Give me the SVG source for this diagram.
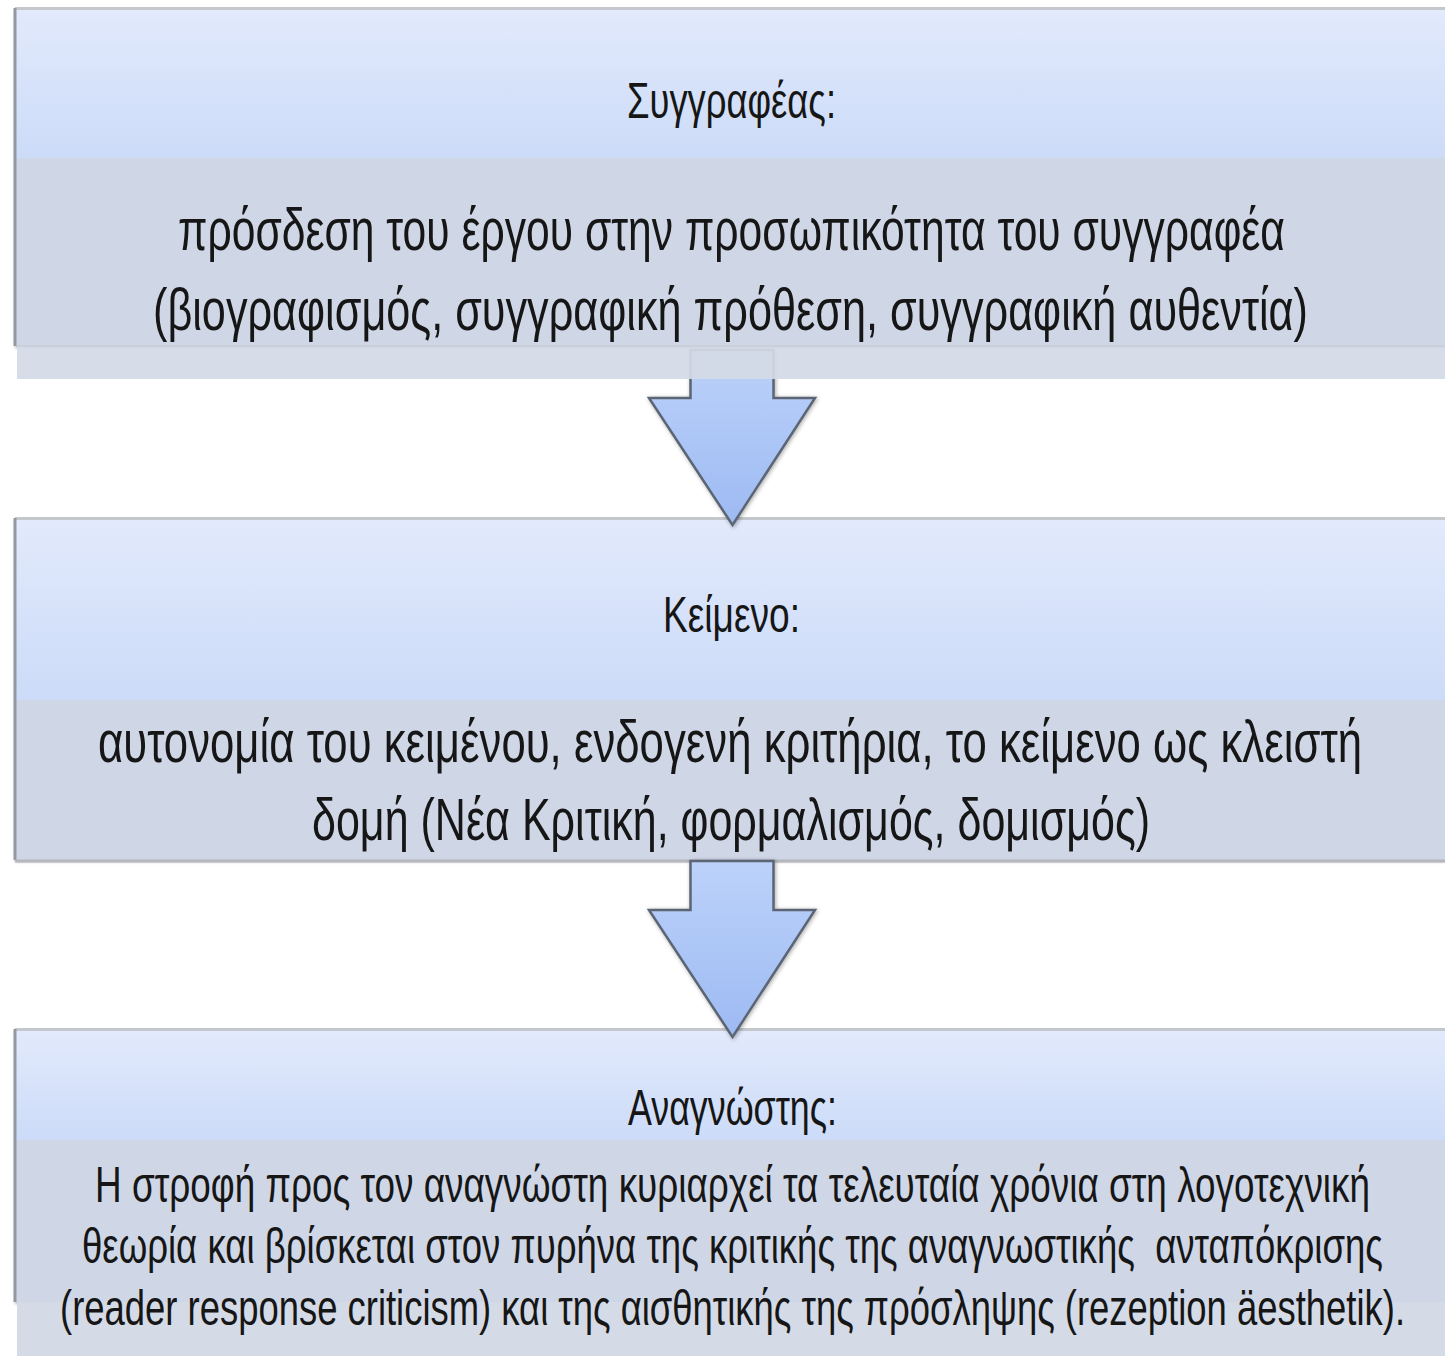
<svg xmlns="http://www.w3.org/2000/svg" width="1445" height="1356" viewBox="0 0 1445 1356">
<defs>
<linearGradient id="blueTop" x1="0" y1="0" x2="0" y2="1">
<stop offset="0" stop-color="#e2eafc"/>
<stop offset="1" stop-color="#ccdbf8"/>
</linearGradient>
<linearGradient id="arrowFill" x1="0" y1="0" x2="0" y2="1">
<stop offset="0" stop-color="#bcd2fa"/>
<stop offset="1" stop-color="#9dbaf2"/>
</linearGradient>
<filter id="shadow" x="-10%" y="-10%" width="120%" height="120%">
<feGaussianBlur in="SourceAlpha" stdDeviation="2"/>
<feOffset dx="1" dy="1" result="b"/>
<feComponentTransfer><feFuncA type="linear" slope="0.35"/></feComponentTransfer>
<feMerge><feMergeNode/><feMergeNode in="SourceGraphic"/></feMerge>
</filter>
<filter id="boxShadow" x="-2%" y="-5%" width="104%" height="110%">
<feGaussianBlur in="SourceAlpha" stdDeviation="1.5"/>
<feOffset dx="0" dy="2"/>
<feComponentTransfer><feFuncA type="linear" slope="0.3"/></feComponentTransfer>
<feMerge><feMergeNode/><feMergeNode in="SourceGraphic"/></feMerge>
</filter>
</defs>
<style>
.top{fill:url(#blueTop);}
.body{fill:#cfd7e7;}
.band{fill:#d4dae6;}
.edge{fill:none;stroke:#9498a0;stroke-width:3;}
.topline{fill:none;stroke:#c4c7cc;stroke-width:3;}
.arrow{fill:url(#arrowFill);stroke:#5b6574;stroke-width:2.5;stroke-linejoin:miter;}
text{font-family:"Liberation Sans","DejaVu Sans",sans-serif;fill:#161616;}
.title{font-size:34px;}
.big{font-size:40px;}
.small{font-size:32px;}
</style>
<rect x="0" y="0" width="1445" height="1356" fill="#ffffff"/>

<g id="node-author">
<g filter="url(#boxShadow)">
<rect class="top" x="15" y="9" width="1430" height="150"/>
<rect class="body" x="15" y="158" width="1430" height="188"/>
</g>
<line class="topline" x1="15" y1="8.5" x2="1445" y2="8.5"/>
<line class="edge" x1="15" y1="8" x2="15" y2="346"/>
<text class="title" transform="translate(627,118) scale(1,1.47)" textLength="209" lengthAdjust="spacingAndGlyphs">Συγγραφέας:</text>
<text class="big" transform="translate(178,250) scale(1,1.5)" textLength="1107" lengthAdjust="spacingAndGlyphs">πρόσδεση του έργου στην προσωπικότητα του συγγραφέα</text>
<text class="big" transform="translate(153,330) scale(1,1.5)" textLength="1155" lengthAdjust="spacingAndGlyphs">(βιογραφισμός, συγγραφική πρόθεση, συγγραφική αυθεντία)</text>
</g>

<g id="node-text">
<g filter="url(#boxShadow)">
<rect class="top" x="15" y="519" width="1430" height="181"/>
<rect class="body" x="15" y="700" width="1430" height="160"/>
</g>
<line class="topline" x1="15" y1="518.5" x2="1445" y2="518.5"/>
<line class="edge" x1="15" y1="518" x2="15" y2="860"/>
<line x1="15" y1="861" x2="1445" y2="861" stroke="#b4b7bc" stroke-width="3"/>
<text class="title" transform="translate(663,632) scale(1,1.47)" textLength="137" lengthAdjust="spacingAndGlyphs">Κείμενο:</text>
<text class="big" transform="translate(98,762) scale(1,1.5)" textLength="1264" lengthAdjust="spacingAndGlyphs">αυτονομία του κειμένου, ενδογενή κριτήρια, το κείμενο ως κλειστή</text>
<text class="big" transform="translate(312,840) scale(1,1.5)" textLength="838" lengthAdjust="spacingAndGlyphs">δομή (Νέα Κριτική, φορμαλισμός, δομισμός)</text>
</g>

<g id="node-reader">
<g filter="url(#boxShadow)">
<rect class="top" x="15" y="1030" width="1430" height="111"/>
<rect class="body" x="15" y="1140" width="1430" height="162"/>
</g>
<line class="topline" x1="15" y1="1029.5" x2="1445" y2="1029.5"/>
<line class="edge" x1="15" y1="1029" x2="15" y2="1302"/>
<rect class="band" x="17" y="1302" width="1428" height="54"/>
<text class="title" transform="translate(628,1125) scale(1,1.47)" textLength="209" lengthAdjust="spacingAndGlyphs">Αναγνώστης:</text>
<text class="small" transform="translate(95,1202) scale(1,1.5625)" textLength="1275" lengthAdjust="spacingAndGlyphs">Η στροφή προς τον αναγνώστη κυριαρχεί τα τελευταία χρόνια στη λογοτεχνική</text>
<text class="small" transform="translate(82,1263) scale(1,1.5625)" textLength="1301" lengthAdjust="spacingAndGlyphs" xml:space="preserve">θεωρία και βρίσκεται στον πυρήνα της κριτικής της αναγνωστικής  ανταπόκρισης</text>
<text class="small" transform="translate(60,1325) scale(1,1.5625)" textLength="1345" lengthAdjust="spacingAndGlyphs">(reader response criticism) και της αισθητικής της πρόσληψης (rezeption äesthetik).</text>
</g>

<g id="connectors">
<path class="arrow" filter="url(#shadow)" d="M690.5,350 L773.5,350 L773.5,398 L815,398 L732.5,525 L649,398 L690.5,398 Z"/>
<path class="arrow" filter="url(#shadow)" d="M690.5,861 L773.5,861 L773.5,910 L815,910 L732.5,1037 L649,910 L690.5,910 Z"/>
</g>

<g id="node-author-band">
<rect class="band" x="17" y="346" width="1428" height="33" opacity="0.93"/>
<line x1="17" y1="346" x2="1445" y2="346" stroke="#c9d0dc" stroke-width="2"/>
</g>
</svg>
